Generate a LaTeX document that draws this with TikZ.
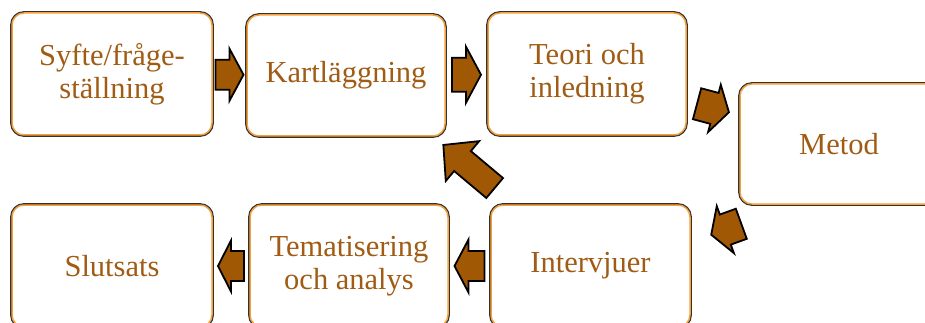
\documentclass[tikz,border=0pt]{standalone}
\usepackage{fontspec}
\setmainfont{Liberation Serif}
\usetikzlibrary{calc}
\definecolor{txtbrown}{RGB}{160,92,20}
\definecolor{boxorange}{RGB}{245,160,60}
\definecolor{boxdark}{RGB}{50,50,50}
\definecolor{arrowfill}{RGB}{160,88,5}
\tikzset{
  box/.style={rectangle, rounded corners=12pt, fill=white, draw=boxorange, line width=1.5pt,
    preaction={draw=boxdark, line width=3.8pt}, text=txtbrown, align=center,
    font=\fontsize{30.5}{33}\selectfont, inner sep=0pt},
  arrowline/.style={fill=arrowfill, draw=black, line width=1.8pt, line join=miter},
  pics/barrow/.style args={#1/#2/#3/#4}{code={
    \draw[arrowline] ({-#1/2},{#3/2}) -- ({#1/2-#4},{#3/2}) -- ({#1/2-#4},{#2/2}) -- ({#1/2},0)
      -- ({#1/2-#4},{-#2/2}) -- ({#1/2-#4},{-#3/2}) -- ({-#1/2},{-#3/2}) -- cycle;
  }}
}
\begin{document}
\begin{tikzpicture}[x=1pt,y=1pt]
\useasboundingbox (0,0) rectangle (925,-323);
\fill[white] (0,0) rectangle (925,-323);
\clip (0,0) rectangle (925,-323);
\node[box, minimum width=200pt, minimum height=122pt] (syfte) at (112,-74) {Syfte/fråge-\\ställning};
\node[box, minimum width=198pt, minimum height=121pt] (kart) at (346,-75.5) {Kartläggning};
\node[box, minimum width=198pt, minimum height=122pt] (teori) at (587,-74) {Teori och\\inledning};
\node[box, minimum width=198pt, minimum height=120pt] (metod) at (839,-144) {Metod};
\node[box, minimum width=199pt, minimum height=122pt] (interv) at (590.5,-266) {Intervjuer};
\node[box, minimum width=198pt, minimum height=122pt] (temat) at (349,-266) {Tematisering\\och analys};
\node[box, minimum width=200pt, minimum height=122pt] (slut) at (112,-266) {Slutsats};
% arrows
\pic at ($(syfte.east)!0.5!(kart.west)$) {barrow=28/52/30/14};
\pic at ($(kart.east)!0.5!(teori.west)$) {barrow=29/56/34/15};
\pic[rotate=-15] at ($(teori.east)!0.5!(metod.west)+(0,1)$) {barrow=33/49/32/15};
\pic[rotate=200] at ($(metod.south west)+(-13,-24.5)$) {barrow=32/50/32/15};
\pic[rotate=180] at ($(temat.east)!0.5!(interv.west)$) {barrow=30/53/30/14};
\pic[rotate=180] at ($(slut.east)!0.5!(temat.west)$) {barrow=26/51/30/13};
\pic[rotate=140] at ($(kart.south east)!0.5!(interv.north west)+(1,4)$) {barrow=67/52/26/25};
\end{tikzpicture}
\end{document}
